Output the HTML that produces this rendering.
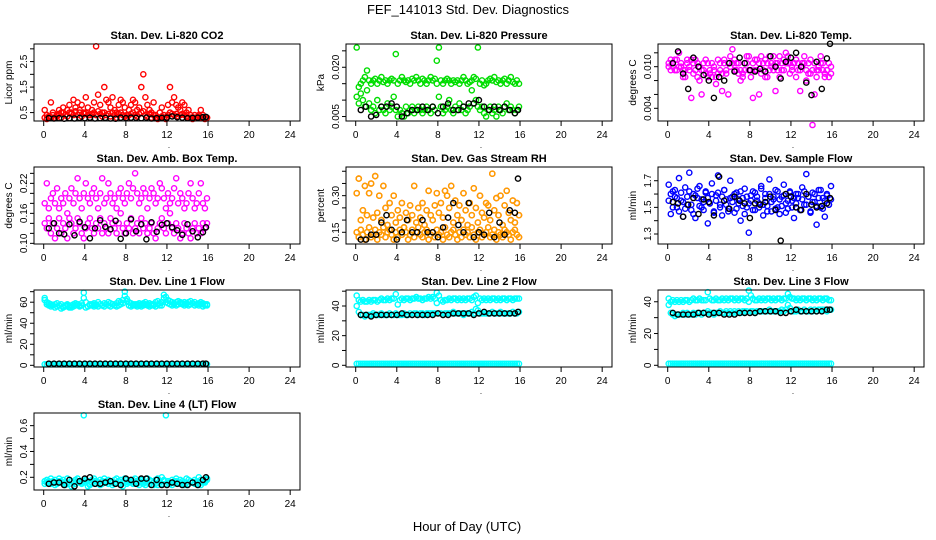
<!DOCTYPE html>
<html><head><meta charset="utf-8"><style>
html,body{margin:0;padding:0;background:#fff;}
svg{display:block;font-family:"Liberation Sans",sans-serif;}
</style></head><body>
<svg id="chart" width="936" height="540" viewBox="0 0 936 540" xmlns="http://www.w3.org/2000/svg">
<rect x="0" y="0" width="936" height="540" fill="#fff"/>
<text x="468" y="14" font-size="13" text-anchor="middle">FEF_141013  Std. Dev. Diagnostics</text>
<text x="467" y="531" font-size="13" text-anchor="middle">Hour of Day (UTC)</text>
</svg>
<script>
const hoursA=[0.1,0.3,0.5,0.7,0.9,1.1,1.3,1.5,1.7,1.9,2.1,2.3,2.5,2.7,2.9,3.1,3.3,3.5,3.7,3.9,4.1,4.3,4.5,4.7,4.9,5.1,5.3,5.5,5.7,5.9,6.1,6.3,6.5,6.7,6.9,7.1,7.3,7.5,7.7,7.9,8.1,8.3,8.5,8.7,8.9,9.1,9.3,9.5,9.7,9.9,10.1,10.3,10.5,10.7,10.9,11.1,11.3,11.5,11.7,11.9,12.1,12.3,12.5,12.7,12.9,13.1,13.3,13.5,13.7,13.9,14.1,14.3,14.5,14.7,14.9,15.1,15.3,15.5,15.7,15.9];
const hoursB=[0.5,1.0,1.5,2.0,2.5,3.0,3.5,4.0,4.5,5.0,5.5,6.0,6.5,7.0,7.5,8.0,8.5,9.0,9.5,10.0,10.5,11.0,11.5,12.0,12.5,13.0,13.5,14.0,14.5,15.0,15.5,15.8];
const xTicks=[0,4,8,12,16,20,24];

const co2A=[0.6,0.4,0.3,0.9,0.5,0.3,0.4,0.6,0.5,0.7,0.4,0.6,0.8,0.5,1.0,0.7,0.9,0.6,0.8,0.5,1.1,0.7,0.4,0.6,0.9,3.1,1.2,0.8,0.5,1.5,1.0,0.9,0.7,1.1,0.6,0.5,0.8,1.0,0.9,0.7,0.4,0.6,0.8,1.0,0.9,0.6,0.7,1.5,2.0,1.1,0.8,0.6,0.5,0.9,0.4,0.3,0.5,0.7,0.4,0.3,0.8,1.5,0.9,1.1,0.8,0.7,0.6,0.9,0.8,0.5,0.6,0.4,0.3,0.4,0.3,0.4,0.6,0.4,0.3,0.3];
const co2B=[0.3,0.25,0.35,0.3,0.4,0.3,0.35,0.45,0.3,0.5,0.4,0.35,0.5,0.45,0.4,0.55,0.4,0.5,0.35,0.45,0.5,0.4,0.3,0.45,0.5,0.4,0.55,0.45,0.35,0.5,0.4,0.45,0.35,0.5,0.4,0.3,0.45,0.5,0.4,0.35,0.3,0.4,0.45,0.5,0.4,0.35,0.45,0.5,0.55,0.4,0.35,0.45,0.3,0.4,0.3,0.25,0.3,0.35,0.3,0.25,0.4,0.5,0.45,0.4,0.45,0.35,0.4,0.45,0.4,0.35,0.3,0.3,0.25,0.3,0.3,0.35,0.3,0.3,0.25,0.3];
const co2K=[0.28,0.27,0.28,0.26,0.28,0.27,0.29,0.28,0.3,0.27,0.28,0.29,0.27,0.26,0.3,0.28,0.3,0.29,0.28,0.3,0.27,0.28,0.29,0.3,0.35,0.32,0.3,0.28,0.29,0.3,0.32,0.33];

const presA=[0.026,0.014,0.015,0.016,0.017,0.019,0.016,0.015,0.016,0.0165,0.015,0.016,0.017,0.0155,0.016,0.015,0.016,0.0165,0.016,0.024,0.015,0.016,0.017,0.016,0.0155,0.016,0.015,0.0165,0.016,0.017,0.016,0.015,0.0165,0.016,0.015,0.016,0.017,0.016,0.0165,0.015,0.026,0.016,0.015,0.016,0.0165,0.016,0.015,0.016,0.0155,0.016,0.015,0.016,0.017,0.016,0.015,0.0155,0.016,0.017,0.0165,0.026,0.015,0.016,0.0145,0.015,0.016,0.0165,0.016,0.017,0.0155,0.016,0.015,0.016,0.0165,0.015,0.016,0.017,0.0155,0.015,0.016,0.015];
const presB=[0.011,0.009,0.012,0.010,0.008,0.013,0.009,0.007,0.008,0.006,0.010,0.007,0.008,0.007,0.006,0.009,0.007,0.008,0.011,0.007,0.005,0.007,0.006,0.005,0.008,0.006,0.007,0.008,0.006,0.007,0.008,0.007,0.006,0.007,0.008,0.007,0.006,0.008,0.007,0.022,0.011,0.008,0.006,0.007,0.008,0.010,0.007,0.006,0.008,0.007,0.009,0.007,0.008,0.006,0.007,0.008,0.013,0.009,0.010,0.008,0.007,0.008,0.006,0.005,0.007,0.008,0.006,0.007,0.005,0.008,0.007,0.006,0.008,0.009,0.007,0.008,0.007,0.006,0.007,0.008];
const presK=[0.007,0.008,0.005,0.0055,0.008,0.008,0.009,0.008,0.005,0.006,0.007,0.007,0.008,0.007,0.008,0.006,0.008,0.009,0.007,0.007,0.008,0.009,0.009,0.010,0.008,0.007,0.008,0.007,0.008,0.007,0.006,0.007];

const tempA=[0.010,0.011,0.0105,0.0095,0.011,0.012,0.010,0.0085,0.0095,0.011,0.010,0.0055,0.009,0.011,0.0105,0.010,0.006,0.0095,0.011,0.0105,0.009,0.0085,0.010,0.0075,0.011,0.0095,0.0065,0.0105,0.009,0.006,0.010,0.0125,0.011,0.0095,0.0105,0.008,0.009,0.0105,0.0115,0.0095,0.0085,0.0055,0.0095,0.011,0.006,0.009,0.0105,0.011,0.0085,0.0115,0.010,0.0095,0.0065,0.0105,0.0115,0.0095,0.011,0.012,0.0105,0.009,0.010,0.0105,0.011,0.0095,0.0065,0.010,0.0105,0.008,0.009,0.011,0.0016,0.006,0.0095,0.010,0.0115,0.0105,0.009,0.0095,0.0085,0.010];
const tempB=[0.0105,0.0095,0.010,0.011,0.0095,0.010,0.0105,0.0095,0.0085,0.0105,0.0095,0.011,0.0105,0.0095,0.0085,0.008,0.0095,0.0105,0.009,0.0085,0.0095,0.0105,0.0095,0.0085,0.009,0.0105,0.009,0.011,0.0095,0.0105,0.0115,0.0105,0.0095,0.0105,0.009,0.0095,0.0085,0.0095,0.0105,0.0115,0.0095,0.0105,0.011,0.0095,0.0105,0.0115,0.0095,0.0085,0.0105,0.0095,0.0105,0.0115,0.0105,0.0095,0.0085,0.0105,0.0095,0.0105,0.0115,0.0105,0.0095,0.0105,0.0085,0.0105,0.0095,0.0105,0.0115,0.0095,0.0105,0.009,0.0095,0.0105,0.0085,0.0095,0.0105,0.0095,0.0085,0.0095,0.0105,0.009];
const tempK=[0.0105,0.0122,0.009,0.0068,0.0113,0.010,0.0088,0.008,0.0055,0.0085,0.008,0.0105,0.0093,0.0113,0.0105,0.0095,0.0093,0.0097,0.0093,0.0115,0.010,0.0083,0.0107,0.0113,0.012,0.010,0.0077,0.0059,0.0107,0.0068,0.0112,0.0133];

const ambA=[0.18,0.22,0.17,0.19,0.20,0.18,0.21,0.17,0.19,0.18,0.20,0.16,0.19,0.21,0.18,0.20,0.23,0.19,0.17,0.20,0.22,0.19,0.18,0.20,0.21,0.19,0.17,0.20,0.23,0.18,0.19,0.22,0.20,0.18,0.19,0.17,0.20,0.21,0.19,0.18,0.20,0.22,0.19,0.21,0.24,0.20,0.18,0.19,0.21,0.20,0.17,0.19,0.21,0.20,0.18,0.19,0.22,0.21,0.19,0.17,0.20,0.18,0.19,0.21,0.23,0.18,0.20,0.19,0.17,0.18,0.20,0.22,0.19,0.17,0.18,0.20,0.22,0.18,0.17,0.19];
const ambB=[0.14,0.13,0.15,0.12,0.14,0.11,0.13,0.15,0.12,0.14,0.13,0.11,0.15,0.14,0.12,0.13,0.15,0.14,0.12,0.11,0.13,0.14,0.15,0.13,0.12,0.14,0.13,0.15,0.12,0.14,0.13,0.12,0.15,0.14,0.13,0.12,0.14,0.16,0.13,0.12,0.14,0.13,0.15,0.12,0.13,0.14,0.12,0.15,0.13,0.14,0.12,0.13,0.14,0.12,0.11,0.13,0.14,0.15,0.13,0.12,0.14,0.16,0.13,0.12,0.14,0.13,0.11,0.12,0.14,0.13,0.12,0.11,0.13,0.14,0.12,0.13,0.12,0.14,0.13,0.14];
const ambK=[0.13,0.14,0.12,0.118,0.138,0.116,0.143,0.132,0.11,0.13,0.146,0.133,0.128,0.145,0.109,0.12,0.148,0.124,0.138,0.108,0.142,0.123,0.137,0.14,0.132,0.126,0.117,0.138,0.124,0.112,0.122,0.132];

const rhA=[0.15,0.13,0.16,0.14,0.12,0.15,0.17,0.13,0.14,0.16,0.12,0.15,0.14,0.17,0.13,0.15,0.16,0.14,0.12,0.15,0.13,0.16,0.14,0.17,0.15,0.12,0.14,0.16,0.13,0.15,0.17,0.14,0.13,0.15,0.16,0.12,0.14,0.15,0.13,0.16,0.14,0.15,0.12,0.17,0.14,0.13,0.15,0.16,0.14,0.12,0.15,0.13,0.16,0.14,0.15,0.13,0.17,0.14,0.12,0.15,0.16,0.13,0.14,0.15,0.17,0.13,0.14,0.16,0.12,0.15,0.14,0.13,0.16,0.15,0.14,0.12,0.15,0.16,0.14,0.13];
const rhB=[0.31,0.37,0.20,0.24,0.34,0.22,0.31,0.35,0.21,0.38,0.23,0.30,0.20,0.34,0.25,0.18,0.27,0.22,0.30,0.19,0.24,0.21,0.27,0.17,0.23,0.20,0.26,0.22,0.34,0.19,0.25,0.21,0.27,0.18,0.24,0.32,0.22,0.20,0.26,0.31,0.23,0.27,0.21,0.32,0.30,0.25,0.34,0.19,0.28,0.22,0.26,0.20,0.31,0.24,0.18,0.27,0.22,0.33,0.25,0.19,0.30,0.23,0.21,0.27,0.26,0.20,0.39,0.24,0.29,0.22,0.30,0.18,0.26,0.32,0.23,0.20,0.28,0.19,0.27,0.22];
const rhK=[0.12,0.12,0.14,0.14,0.19,0.22,0.16,0.12,0.15,0.20,0.15,0.15,0.20,0.15,0.15,0.13,0.17,0.21,0.27,0.18,0.15,0.27,0.13,0.15,0.14,0.23,0.13,0.19,0.14,0.24,0.23,0.37];

const flowA=[1.67,1.45,1.62,1.58,1.50,1.72,1.55,1.43,1.65,1.52,1.76,1.48,1.60,1.42,1.57,1.66,1.50,1.54,1.61,1.38,1.53,1.68,1.47,1.59,1.74,1.52,1.44,1.63,1.56,1.49,1.70,1.58,1.46,1.61,1.53,1.40,1.57,1.64,1.50,1.31,1.55,1.62,1.48,1.58,1.53,1.66,1.44,1.60,1.51,1.71,1.47,1.56,1.63,1.50,1.45,1.58,1.67,1.53,1.49,1.62,1.55,1.42,1.60,1.57,1.48,1.65,1.52,1.75,1.58,1.46,1.61,1.54,1.37,1.63,1.50,1.57,1.43,1.60,1.52,1.66];
const flowB=[1.55,1.60,1.50,1.63,1.57,1.47,1.61,1.54,1.49,1.58,1.62,1.52,1.45,1.59,1.64,1.51,1.56,1.48,1.62,1.57,1.53,1.60,1.46,1.55,1.61,1.50,1.58,1.63,1.52,1.47,1.57,1.54,1.60,1.49,1.56,1.62,1.51,1.45,1.58,1.53,1.59,1.48,1.61,1.55,1.50,1.64,1.52,1.57,1.47,1.60,1.54,1.58,1.49,1.62,1.56,1.51,1.59,1.46,1.55,1.61,1.50,1.57,1.53,1.60,1.48,1.56,1.62,1.52,1.58,1.47,1.54,1.60,1.51,1.57,1.63,1.49,1.55,1.59,1.52,1.56];
const flowK=[1.54,1.53,1.43,1.52,1.57,1.45,1.56,1.54,1.44,1.73,1.55,1.49,1.58,1.55,1.53,1.42,1.53,1.52,1.54,1.58,1.48,1.25,1.60,1.58,1.50,1.48,1.60,1.52,1.50,1.51,1.53,1.57];

const lowFlowBand=[1,1,1,1,1,1,1,1,1,1,1,1,1,1,1,1,1,1,1,1,1,1,1,1,1,1,1,1,1,1,1,1,1,1,1,1,1,1,1,1,1,1,1,1,1,1,1,1,1,1,1,1,1,1,1,1,1,1,1,1,1,1,1,1,1,1,1,1,1,1,1,1,1,1,1,1,1,1,1,1];

const line1A=[64,60,59,58,57,58,59,57,58,56,57,58,55,57,58,59,58,57,59,69,60,56,58,57,59,58,60,58,57,59,58,60,59,58,57,59,61,60,62,70,63,60,59,58,57,58,59,58,59,60,58,59,57,58,60,61,59,60,67,65,62,61,60,59,60,61,60,59,60,59,60,61,59,60,58,59,60,59,58,58];
const line1B=[62,58,57,56,57,55,56,57,54,55,56,57,56,55,56,57,58,56,57,64,55,56,57,58,56,57,56,58,57,56,58,57,56,58,57,56,57,58,59,66,61,57,56,57,58,56,57,56,57,58,57,56,58,57,56,58,57,57,64,60,59,58,57,58,57,58,59,58,57,58,57,58,59,57,58,57,58,56,57,57];
const line1K=[1.5,1.5,1.5,1.5,1.5,1.5,1.5,1.5,1.5,1.5,1.5,1.5,1.5,1.5,1.5,1.5,1.5,1.5,1.5,1.5,1.5,1.5,1.5,1.5,1.5,1.5,1.5,1.5,1.5,1.5,1.5,1.5];

const line2A=[47,44,43,44,43,43,44,43,44,44,43,44,45,44,44,45,44,45,45,48,41,44,45,44,45,45,44,45,45,46,45,45,44,45,45,46,45,46,45,49,47,44,43,44,44,45,44,45,45,44,45,44,45,44,45,45,44,46,47,42,45,44,45,44,45,44,45,45,44,45,44,45,45,44,45,45,44,45,45,45];
const line2B=[40,36,34,34,33,34,34,34,35,34,34,34,35,34,34,34,35,34,34,35,34,34,34,35,34,34,35,34,35,35,34,35,35,34,35,35,35,35,35,42,35,35,34,35,35,35,35,36,35,35,35,35,34,35,35,35,36,35,38,37,35,35,35,35,35,35,36,35,35,35,36,35,35,35,35,35,36,35,35,36];
const line2K=[34,34,33,34,34,34,34,34,35,34,34,34,34,34,34,35,34,34,35,35,35,35,34,35,36,35,35,35,35,35,35,36];

const line3A=[42,40,41,40,41,40,41,40,41,41,40,41,42,41,41,42,41,41,41,46,42,41,41,42,41,41,42,41,42,41,42,42,41,42,41,42,42,41,42,47,44,42,41,41,42,41,42,41,42,42,41,42,41,42,42,41,42,42,45,43,42,42,41,42,41,42,42,41,42,42,41,42,41,42,42,41,42,42,41,41];
const line3B=[38,33,32,31,32,32,32,33,32,33,32,32,33,32,33,33,32,33,33,34,33,33,32,33,33,34,33,33,34,33,34,33,34,33,34,33,34,34,34,40,34,34,33,34,34,34,34,34,34,35,34,34,34,34,34,35,34,35,38,36,34,34,34,35,34,34,35,34,34,35,34,35,34,35,35,35,35,34,35,35];
const line3K=[33,32,32,32,32,33,33,32,33,33,32,32,32,33,33,33,33,34,34,34,34,33,33,34,35,34,34,34,34,34,35,35];

const line4A=[0.17,0.18,0.16,0.19,0.17,0.18,0.16,0.19,0.17,0.18,0.16,0.19,0.18,0.17,0.16,0.18,0.19,0.17,0.16,0.68,0.18,0.17,0.14,0.18,0.19,0.17,0.16,0.18,0.17,0.19,0.16,0.18,0.17,0.16,0.18,0.19,0.17,0.18,0.16,0.19,0.18,0.17,0.16,0.18,0.19,0.17,0.14,0.18,0.17,0.16,0.19,0.18,0.17,0.14,0.18,0.19,0.17,0.20,0.18,0.68,0.17,0.16,0.18,0.17,0.19,0.16,0.18,0.17,0.16,0.19,0.18,0.17,0.16,0.18,0.17,0.20,0.18,0.17,0.16,0.18];
const line4B=[0.15,0.16,0.17,0.15,0.16,0.14,0.15,0.17,0.16,0.15,0.14,0.16,0.15,0.13,0.16,0.15,0.17,0.16,0.15,0.17,0.16,0.13,0.15,0.16,0.17,0.15,0.16,0.14,0.15,0.16,0.17,0.15,0.16,0.14,0.15,0.16,0.17,0.15,0.13,0.16,0.15,0.16,0.17,0.15,0.16,0.15,0.17,0.16,0.15,0.14,0.16,0.15,0.17,0.16,0.15,0.14,0.16,0.15,0.17,0.15,0.16,0.15,0.14,0.16,0.17,0.15,0.16,0.15,0.14,0.16,0.15,0.17,0.16,0.15,0.16,0.15,0.14,0.16,0.17,0.19];
const line4K=[0.15,0.16,0.16,0.14,0.18,0.13,0.17,0.19,0.20,0.15,0.15,0.16,0.17,0.15,0.14,0.19,0.18,0.15,0.19,0.19,0.14,0.18,0.14,0.14,0.16,0.15,0.14,0.14,0.16,0.14,0.18,0.20];

const NS="http://www.w3.org/2000/svg";
const svg=document.getElementById('chart');
function mk(tag,attrs,parent){const e=document.createElementNS(NS,tag);for(const k in attrs)e.setAttribute(k,attrs[k]);(parent||svg).appendChild(e);return e;}

const panels=[
 {key:'co2',title:'Stan. Dev. Li-820 CO2',ylab:'Licor ppm',col:0,row:0,dom:[0.17,3.19],ticks:[0.5,1,1.5,2,2.5,3],labels:[0.5,1.5,2.5],fmt:1,
  series:[[hoursA,co2A,'#ff0000'],[hoursA,co2B,'#ff0000'],[hoursB,co2K,'#000']]},
 {key:'pressure',title:'Stan. Dev. Li-820 Pressure',ylab:'kPa',col:1,row:0,dom:[0.00364,0.02708],ticks:[0.005,0.010,0.015,0.020,0.025],labels:[0.005,0.020],fmt:3,
  series:[[hoursA,presA,'#00dd00'],[hoursA,presB,'#00dd00'],[hoursB,presK,'#000']]},
 {key:'li-temp',title:'Stan. Dev. Li-820 Temp.',ylab:'degrees C',col:2,row:0,dom:[0.00217,0.01327],ticks:[0.004,0.006,0.008,0.010,0.012],labels:[0.004,0.010],fmt:3,
  series:[[hoursA,tempA,'#ff00ff'],[hoursA,tempB,'#ff00ff'],[hoursB,tempK,'#000']]},
 {key:'amb-temp',title:'Stan. Dev. Amb. Box Temp.',ylab:'degrees C',col:0,row:1,dom:[0.0987,0.2527],ticks:[0.10,0.12,0.14,0.16,0.18,0.20,0.22,0.24],labels:[0.10,0.16,0.22],fmt:2,
  series:[[hoursA,ambA,'#ff00ff'],[hoursA,ambB,'#ff00ff'],[hoursB,ambK,'#000']]},
 {key:'rh',title:'Stan. Dev. Gas Stream RH',ylab:'percent',col:1,row:1,dom:[0.102,0.4174],ticks:[0.15,0.20,0.25,0.30,0.35,0.40],labels:[0.15,0.30],fmt:2,
  series:[[hoursA,rhB,'#ff4000'],[hoursA,rhA,'#ff4000'],[hoursA,rhB,'#ffa000'],[hoursA,rhA,'#ffa000'],[hoursB,rhK,'#000']]},
 {key:'sample-flow',title:'Stan. Dev. Sample Flow',ylab:'ml/min',col:2,row:1,dom:[1.225,1.803],ticks:[1.3,1.4,1.5,1.6,1.7],labels:[1.3,1.5,1.7],fmt:1,
  series:[[hoursA,flowA,'#0000ff'],[hoursA,flowB,'#0000ff'],[hoursB,flowK,'#000']]},
 {key:'line1',title:'Stan. Dev. Line 1 Flow',ylab:'ml/min',col:0,row:2,dom:[-1.6,71.6],ticks:[0,10,20,30,40,50,60,70],labels:[0,20,40,60],fmt:0,
  series:[[hoursA,line1A,'#00ffff'],[hoursA,line1B,'#00ffff'],[hoursA,lowFlowBand,'#00ffff'],[hoursB,line1K,'#000']]},
 {key:'line2',title:'Stan. Dev. Line 2 Flow',ylab:'ml/min',col:1,row:2,dom:[-1.15,50.8],ticks:[0,10,20,30,40,50],labels:[0,20,40],fmt:0,
  series:[[hoursA,line2A,'#00ffff'],[hoursA,line2B,'#00ffff'],[hoursA,lowFlowBand,'#00ffff'],[hoursB,line2K,'#000']]},
 {key:'line3',title:'Stan. Dev. Line 3 Flow',ylab:'ml/min',col:2,row:2,dom:[-1.07,47.4],ticks:[0,10,20,30,40],labels:[0,20,40],fmt:0,
  series:[[hoursA,line3A,'#00ffff'],[hoursA,line3B,'#00ffff'],[hoursA,lowFlowBand,'#00ffff'],[hoursB,line3K,'#000']]},
 {key:'line4',title:'Stan. Dev. Line 4 (LT) Flow',ylab:'ml/min',col:0,row:3,dom:[0.1016,0.698],ticks:[0.2,0.3,0.4,0.5,0.6],labels:[0.2,0.4,0.6],fmt:1,
  series:[[hoursA,line4A,'#00ffff'],[hoursA,line4B,'#00ffff'],[hoursB,line4K,'#000']]}
];

const colLeft=[34,346,658], boxW=266, rowTop=[44,167,290,413], boxH=77;
panels.forEach(p=>{
  const L=colLeft[p.col], T=rowTop[p.row], B=T+boxH, R=L+boxW;
  const xs=h=>L+9.7+h*10.27;
  const ys=v=>B-(v-p.dom[0])/(p.dom[1]-p.dom[0])*boxH;
  const g=mk('g',{});
  
  
  const t=mk('text',{x:(L+R)/2,y:T-5,'font-size':11,'font-weight':'bold','text-anchor':'middle'},g);
  t.textContent=p.title;
  
  
  const yl=mk('text',{x:L-22,y:(T+B)/2,'font-size':10,'text-anchor':'middle',transform:`rotate(-90 ${L-22} ${(T+B)/2})`},g);
  yl.textContent=p.ylab;
  
  
  const mg=mk('g',{fill:'none','stroke-width':1.4},g);
  
  
  p.series.forEach(s=>{
    const hx=s[0], vals=s[1], col=s[2];
    for(let i=0;i<vals.length;i++){
      const c=mk('circle',{cx:xs(hx[i]).toFixed(1),cy:ys(vals[i]).toFixed(1),r:2.6,stroke:col},mg);
      
      
    }
  });
  const box=mk('rect',{x:L,y:T,width:boxW,height:boxH,fill:'none',stroke:'#000','stroke-width':1},g);
  
  
  xTicks.forEach(h=>{
    mk('line',{x1:xs(h),x2:xs(h),y1:B,y2:B+5,stroke:'#000'},g);
    const tl=mk('text',{x:xs(h),y:B+17,'font-size':10,'text-anchor':'middle'},g);
    tl.textContent=h;
    
    
  });
  const dot=mk('text',{x:xs(12)+2,y:B+27,'font-size':8,'text-anchor':'middle'},g);
  dot.textContent='.';
  
  
  p.ticks.forEach(v=>{
    mk('line',{x1:L-4,x2:L,y1:ys(v),y2:ys(v),stroke:'#000'},g);
  });
  p.labels.forEach(v=>{
    const yy=ys(v), xx=L-7;
    const tl=mk('text',{x:xx,y:yy,'font-size':10,'text-anchor':'middle',transform:`rotate(-90 ${xx} ${yy})`},g);
    tl.textContent=v.toFixed(p.fmt);
    
    
  });
});
</script>
</body></html>
